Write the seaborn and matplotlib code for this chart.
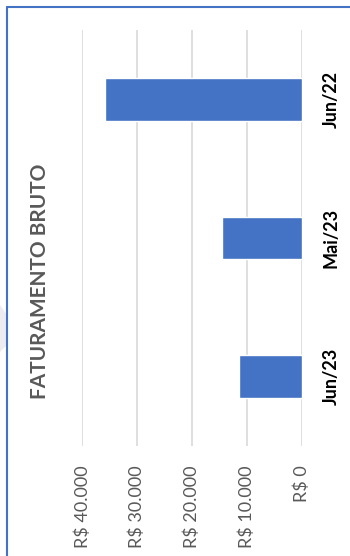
import matplotlib
matplotlib.use("Agg")
import matplotlib.pyplot as plt
from matplotlib.patches import Polygon
from matplotlib.ticker import FuncFormatter
import seaborn as sns
import pandas as pd

# Faturamento bruto por período
periods = ["Jun/22", "Mai/23", "Jun/23"]
revenue = [35800, 14500, 11400]
value_ticks = [0, 10000, 20000, 30000, 40000]
title = "FATURAMENTO BRUTO"

df = pd.DataFrame({"periodo": periods, "faturamento": revenue})

sns.set_theme(style="white")
plt.rcParams["font.family"] = ["Lato", "DejaVu Sans"]

W, H = 350, 556
fig = plt.figure(figsize=(W / 100, H / 100), dpi=100)
fig.patch.set_facecolor("white")

# plot area in pixel coordinates
x0, x1 = 82.3, 301.7
y_top, y_bot = 30, 446
ax = fig.add_axes([x0 / W, 1 - y_bot / H, (x1 - x0) / W, (y_bot - y_top) / H])

sns.barplot(data=df, y="periodo", x="faturamento", orient="h",
            color="#4472C4", saturation=1, width=0.31, ax=ax)

ax.set_xlim(40000, 0)
ax.set_ylim(2.5, -0.5)
ax.set_xticks(value_ticks)
ax.xaxis.set_major_formatter(
    FuncFormatter(lambda v, _: "R$ " + f"{int(v):,}".replace(",", ".")))
ax.grid(axis="x", color="#d9d9d9", linewidth=1.2)
ax.set_axisbelow(True)
for s in ax.spines.values():
    s.set_visible(False)
ax.set_xlabel("")
ax.set_ylabel("")

ax.tick_params(axis="x", length=0, pad=14, labelsize=13, labelcolor="#595959")
for lbl in ax.get_xticklabels():
    lbl.set_rotation(90)
    lbl.set_va("top")
    lbl.set_ha("center")

ax.yaxis.tick_right()
ax.tick_params(axis="y", length=0, pad=15, labelsize=13, labelcolor="#000000")
for lbl in ax.get_yticklabels():
    lbl.set_rotation(90)
    lbl.set_va("center")
    lbl.set_ha("left")
    lbl.set_fontweight("bold")

fig.text(40 / W, 1 - 281 / H, title, rotation=90, ha="center", va="center",
         fontsize=15, color="#595959", fontweight="bold")

# chart frame and faint shape at the left edge
fig.add_artist(Polygon([[0, 1 - 305 / H], [7 / W, 1 - 315 / H], [7 / W, 1 - 345 / H], [0, 1 - 352 / H]],
                       closed=True, transform=fig.transFigure,
                       facecolor="#ececf0", edgecolor="none"))
fig.add_artist(plt.Line2D([7 / W, 1], [1 - 7 / H, 1 - 7 / H], transform=fig.transFigure,
                          color="#4472C4", linewidth=1.5))
fig.add_artist(plt.Line2D([7 / W, 7 / W], [1 - 7 / H, 0], transform=fig.transFigure,
                          color="#4472C4", linewidth=1.5))

fig.savefig("out.png", dpi=100)
